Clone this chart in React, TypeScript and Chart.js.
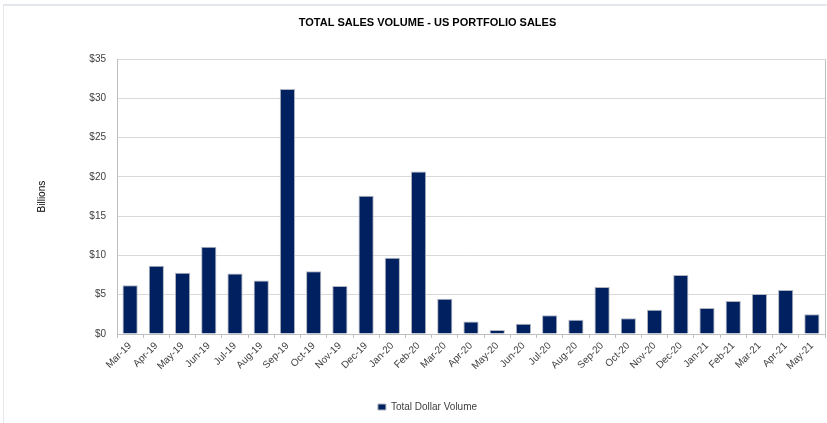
import React, { useEffect, useRef } from "react";
import { Chart, registerables } from "chart.js";

Chart.register(...registerables);

const months = [
  "Mar-19", "Apr-19", "May-19", "Jun-19", "Jul-19", "Aug-19", "Sep-19", "Oct-19", "Nov-19",
  "Dec-19", "Jan-20", "Feb-20", "Mar-20", "Apr-20", "May-20", "Jun-20", "Jul-20", "Aug-20",
  "Sep-20", "Oct-20", "Nov-20", "Dec-20", "Jan-21", "Feb-21", "Mar-21", "Apr-21", "May-21",
];

const totalDollarVolume = [
  6.2, 8.7, 7.8, 11.1, 7.7, 6.8, 31.2, 8.0, 6.1,
  17.6, 9.7, 20.7, 4.5, 1.6, 0.5, 1.3, 2.4, 1.8,
  6.0, 2.0, 3.1, 7.5, 3.3, 4.2, 5.1, 5.6, 2.5,
];

const yTicks = [0, 5, 10, 15, 20, 25, 30, 35];

const FONT = "'Liberation Sans', Arial, sans-serif";

const frame = {
  id: "frame",
  afterDraw(chart: any) {
    const { ctx, chartArea } = chart;
    ctx.save();
    ctx.strokeStyle = "#bfbfbf";
    ctx.lineWidth = 1;
    ctx.beginPath();
    ctx.moveTo(Math.round(chartArea.right) + 0.5, chartArea.top);
    ctx.lineTo(Math.round(chartArea.right) + 0.5, chartArea.bottom);
    ctx.stroke();
    ctx.restore();
  },
};

export default function App() {
  const ref = useRef<HTMLCanvasElement | null>(null);
  useEffect(() => {
    if (!ref.current) return;
    const chart = new Chart(ref.current, {
      type: "bar",
      data: {
        labels: months,
        datasets: [
          {
            label: "Total Dollar Volume",
            data: totalDollarVolume,
            backgroundColor: "#002060",
            borderColor: "#b0b4bf",
            borderWidth: 1,
            barPercentage: 0.58,
            categoryPercentage: 1,
          },
        ],
      },
      options: {
        animation: false,
        responsive: false,
        maintainAspectRatio: false,
        layout: { padding: { left: 30, right: 2, top: 0, bottom: 1 } },
        plugins: {
          title: {
            display: true,
            text: "TOTAL SALES VOLUME - US PORTFOLIO SALES",
            color: "#000",
            font: { family: FONT, size: 11, weight: "bold" },
            padding: { top: 16, bottom: 30 },
          },
          legend: {
            display: true,
            position: "bottom",
            labels: {
              color: "#404040",
              font: { family: FONT, size: 10 },
              boxWidth: 8,
              boxHeight: 6,
              padding: 10,
            },
          },
          tooltip: { enabled: false },
        },
        scales: {
          x: {
            ticks: {
              color: "#404040",
              font: { family: FONT, size: 10 },
              minRotation: 45,
              maxRotation: 45,
              autoSkip: false,
              padding: 2,
            },
            grid: {
              display: true,
              offset: true,
              drawOnChartArea: false,
              drawTicks: true,
              tickLength: 4,
              color: "#bfbfbf",
            },
            border: { display: true, color: "#bfbfbf" },
            afterFit: (axis: any) => {
              axis.height = 58;
            },
          },
          y: {
            min: 0,
            max: 35,
            afterBuildTicks: (axis: any) => {
              axis.ticks = yTicks.map((v) => ({ value: v }));
            },
            ticks: {
              color: "#404040",
              font: { family: FONT, size: 10 },
              padding: 11,
              callback: (v: any) => "$" + v,
            },
            grid: { color: "#d9d9d9", drawTicks: false },
            border: { display: true, color: "#bfbfbf" },
            title: {
              display: true,
              text: "Billions",
              color: "#000",
              font: { family: FONT, size: 10 },
              padding: { top: 6, bottom: 0 },
            },
            afterFit: (axis: any) => {
              axis.width = 87;
            },
          },
        },
      },
      plugins: [frame],
    });
    return () => chart.destroy();
  }, []);

  return (
    <div
      style={{
        position: "fixed",
        left: 0,
        top: 0,
        width: 827,
        height: 423,
        background: "#fff",
      }}
    >
      <div
        style={{
          position: "absolute",
          left: 3,
          top: 4,
          right: 0,
          bottom: 0,
          borderTop: "2px solid #e3e6ea",
          borderLeft: "1px solid #e3e6ea",
        }}
      />
      <canvas ref={ref} width={827} height={423} style={{ position: "absolute", left: 0, top: 0 }} />
    </div>
  );
}
